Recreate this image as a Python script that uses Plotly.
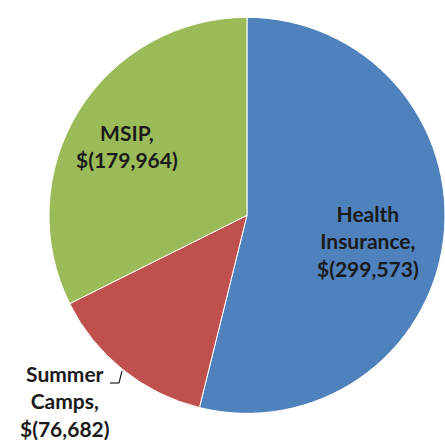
import plotly.graph_objects as go

# Budget shortfall by program (negative amounts shown in parentheses)
labels = ["Health Insurance", "Summer Camps", "MSIP"]
amounts = [299573, 76682, 179964]
colors = ["#4F81BD", "#C0504D", "#9BBB59"]

W, H = 445, 444

fig = go.Figure(
    go.Pie(
        labels=labels,
        values=amounts,
        sort=False,
        direction="clockwise",
        rotation=0,
        marker=dict(colors=colors, line=dict(color="#ffffff", width=1)),
        textinfo="none",
        hoverinfo="label+value",
        showlegend=False,
        domain=dict(x=[0.11, 1.0], y=[0.064, 0.966]),
    )
)


def money(v):
    return "$({:,})".format(v)


def px(x, y):
    return x / W, 1 - y / H


label_text = {
    "Health Insurance": "Health<br>Insurance,<br>" + money(amounts[0]),
    "Summer Camps": "Summer<br>Camps,<br>" + money(amounts[1]),
    "MSIP": "MSIP,<br>" + money(amounts[2]),
}
# (x, y, vertical anchor) in pixels from the top-left corner
label_pos = {
    "Health Insurance": (368, 241, "middle"),
    "Summer Camps": (65, 443, "bottom"),
    "MSIP": (127, 146, "middle"),
}

annotations = []
for name in labels:
    lx, ly, anchor = label_pos[name]
    x, y = px(lx, ly)
    annotations.append(
        dict(
            x=x, y=y, xref="paper", yref="paper",
            text=label_text[name], showarrow=False,
            xanchor="center", yanchor=anchor, align="center",
            font=dict(family="Lato", size=21, color="#1a1a1a", weight="bold"),
        )
    )

# Leader line from the Summer Camps label to its slice
lx0, ly0 = px(110, 383)
lx1, ly1 = px(119, 383)
lx2, ly2 = px(122, 371)
shapes = [
    dict(type="line", xref="paper", yref="paper", x0=lx0, y0=ly0, x1=lx1, y1=ly1,
         line=dict(color="#202020", width=1.2)),
    dict(type="line", xref="paper", yref="paper", x0=lx1, y0=ly1, x1=lx2, y1=ly2,
         line=dict(color="#202020", width=1.2)),
]

fig.update_layout(
    width=W, height=H,
    margin=dict(l=0, r=0, t=0, b=0),
    paper_bgcolor="#ffffff",
    plot_bgcolor="#ffffff",
    annotations=annotations,
    shapes=shapes,
)

fig.write_html("out.html")
